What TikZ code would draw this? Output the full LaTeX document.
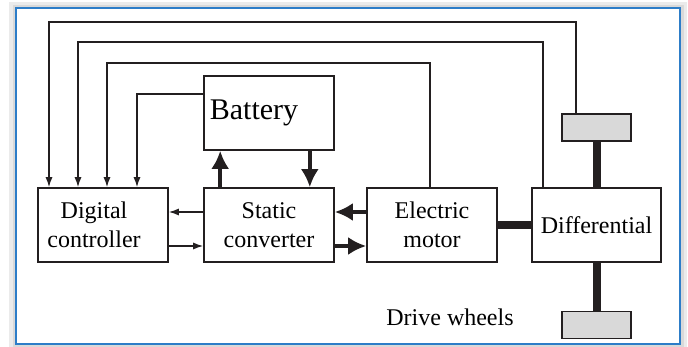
\documentclass[tikz,border=0pt]{standalone}
\usepackage{fontspec}
\setmainfont{Liberation Serif}
\usetikzlibrary{arrows.meta}
\definecolor{frameblue}{RGB}{45,125,200}
\definecolor{ink}{RGB}{35,31,32}
\begin{document}
\begin{tikzpicture}[
                x=1pt,y=-1pt,
                every node/.style={font=\fontsize{24}{29}\selectfont},
                box/.style={draw=ink,line width=1.6pt,minimum width=130pt,minimum height=74pt,inner sep=0pt,align=center},
                wheel/.style={draw=ink,line width=1.6pt,fill=black!15,minimum width=69pt,minimum height=27pt,inner sep=0pt},
                fb/.style={draw=ink,line width=1.3pt},
                sig/.style={fb,-{Latex[length=10pt,width=7pt]}},
                power/.style={draw=ink,line width=4pt,-{Latex[length=18pt,width=18pt]}},
                shaft/.style={draw=ink,line width=8pt}
            ]
            \useasboundingbox (0,0) rectangle (688,347);

            % frame with soft shadow
            \draw[black!8,line width=6pt] (12,5) rectangle (684,347);
            \draw[black!15,line width=3pt] (14,7) rectangle (682,346);
            \draw[frameblue,line width=2pt] (15.5,8.5) rectangle (680,344);

            \node[box] (ctrl) at (103,225) {Digital\hspace*{18pt}\\controller\hspace*{18pt}};
            \node[box] (conv) at (269,225) {Static\\converter};
            \node[box,font=\fontsize{30}{34}\selectfont] (batt) at (269,113) {Battery\hspace*{30pt}};
            \node[box] (motor) at (432,225) {Electric\\motor};
            \node[box,minimum width=129pt] (diff) at (596.5,225) {Differential};
            \node[wheel] (wtop) at (596.5,127.5) {};
            \node[wheel] (wbot) at (596.5,325) {};
            \node (drive) at (450,317) {Drive wheels};

            % feedback lines to the controller
            \coordinate (t1a) at (576,22);
            \coordinate (t1b) at (49,22);
            \coordinate (t2a) at (543,42);
            \coordinate (t2b) at (78,42);
            \coordinate (t3a) at (430,63);
            \coordinate (t3b) at (107,63);
            \coordinate (t4b) at (137,94);
            \draw[sig] (wtop.north -| t1a) -- (t1a) -- (t1b) -- (t1b |- ctrl.north);
            \draw[sig] (diff.north -| t2a) -- (t2a) -- (t2b) -- (t2b |- ctrl.north);
            \draw[sig] (motor.north -| t3a) -- (t3a) -- (t3b) -- (t3b |- ctrl.north);
            \draw[sig] (batt.west |- t4b) -- (t4b) -- (t4b |- ctrl.north);

            % controller <-> converter
            \draw[sig] ([yshift=13pt]conv.west) -- ([yshift=13pt]ctrl.east);
            \draw[sig] ([yshift=-21pt]ctrl.east) -- ([yshift=-21pt]conv.west);

            % power flow
            \draw[power] ([xshift=17pt]conv.north west) -- ([xshift=17pt]batt.south west);
            \draw[power] ([xshift=-25pt]batt.south east) -- ([xshift=-25pt]conv.north east);
            \draw[power] ([yshift=13pt]motor.west) -- ([yshift=13pt]conv.east);
            \draw[power] ([yshift=-21pt]conv.east) -- ([yshift=-21pt]motor.west);

            % mechanical links
            \draw[shaft] (motor.east) -- (diff.west);
            \draw[shaft] (wtop.south) -- (diff.north);
            \draw[shaft] (diff.south) -- (wbot.north);

        \end{tikzpicture}
\end{document}
